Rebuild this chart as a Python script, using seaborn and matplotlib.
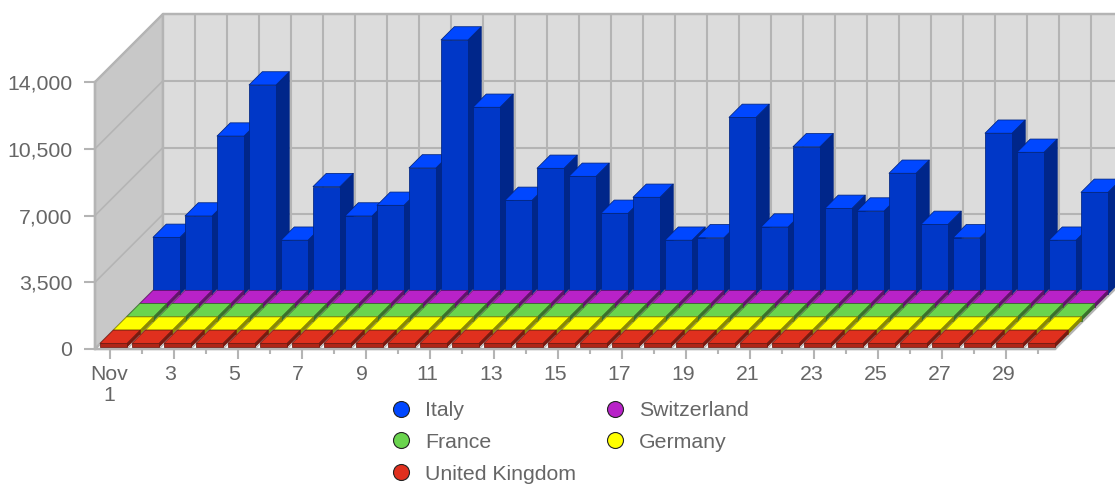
import numpy as np
import pandas as pd
import matplotlib
matplotlib.use('Agg')
import matplotlib.pyplot as plt
from matplotlib.colors import to_rgb
from matplotlib.lines import Line2D
from matplotlib.patches import Polygon
from matplotlib.transforms import ScaledTranslation
import seaborn as sns

# data
day_labels = ['Nov\n1', '3', '5', '7', '9', '11', '13', '15', '17', '19', '21', '23', '25', '27', '29']
days = [str(d) for d in range(1, 31)]
italy = [2970, 4090, 8280, 10960, 2820, 5630, 4090, 4650, 6610, 13320,
         9790, 4910, 6590, 6170, 4230, 5070, 2820, 2950, 9260, 3510,
         7720, 4490, 4350, 6330, 3650, 2950, 8430, 7430, 2820, 5330]
switzerland = [190, 190, 190, 190, 190, 190, 190, 190, 190, 190,
               190, 190, 190, 190, 190, 190, 190, 190, 190, 190,
               190, 190, 190, 190, 190, 190, 190, 190, 190, 190]
france = [190, 190, 190, 190, 190, 190, 190, 190, 190, 190,
          190, 190, 190, 190, 190, 190, 190, 190, 190, 190,
          190, 190, 190, 190, 190, 190, 190, 190, 190, 190]
germany = [190, 190, 190, 190, 190, 190, 190, 190, 190, 190,
           190, 190, 190, 190, 190, 190, 190, 190, 190, 190,
           190, 190, 190, 190, 190, 190, 190, 190, 190, 190]
uk = [190, 190, 190, 190, 190, 190, 190, 190, 190, 190,
      190, 190, 190, 190, 190, 190, 190, 190, 190, 190,
      190, 190, 190, 190, 190, 190, 190, 190, 190, 190]
y_ticks = [0, 3500, 7000, 10500, 14000]

# front row first
series_names = ['United Kingdom', 'Germany', 'France', 'Switzerland', 'Italy']
series_colors = ['#e0301e', '#ffff00', '#6ad44e', '#b822c8', '#0047ff']
legend_order = ['Italy', 'France', 'United Kingdom', 'Switzerland', 'Germany']

df = pd.DataFrame({'day': days, 'Italy': italy, 'Switzerland': switzerland,
                   'France': france, 'Germany': germany, 'United Kingdom': uk})
df = df.melt(id_vars='day', var_name='country', value_name='value')

sns.set_theme(style='white')
plt.rcParams['font.family'] = ['Liberation Sans', 'DejaVu Sans']

GRID = '#b4b4b4'
TEXT = '#666666'
W, H = 1115, 487

fig = plt.figure(figsize=(W / 100, H / 100), dpi=100, facecolor='white')
ax = fig.add_axes([95 / W, (H - 349) / H, 960 / W, 267 / H])
ax.patch.set_visible(False)

# pixel sizes in data units, the 3d look is built from them
px = 1 / 32
py = 14000 / 267
depth = 68
row = 13.25
x0, x1 = -0.5, 29.5
y1 = 14000


def shade(color, k):
    return tuple(c * k for c in to_rgb(color))


def poly(points, face, edge, lw, z):
    ax.add_patch(Polygon(points, closed=True, facecolor=face, edgecolor=edge,
                         linewidth=lw, zorder=z, clip_on=False, joinstyle='round'))


def line(xs, ys, lw, z):
    ax.plot(xs, ys, color=GRID, lw=lw, zorder=z, clip_on=False, solid_capstyle='butt')


def shift_px(artist, x_px, y_px=0):
    artist.set_transform(artist.get_transform() + ScaledTranslation(x_px / 100, y_px / 100, fig.dpi_scale_trans))


dx, dy = depth * px, depth * py

# walls and floor
poly([(x0, 0), (x0 + dx, dy), (x0 + dx, y1 + dy), (x0, y1)], '#c8c8c8', GRID, 1.7, 1)
poly([(x0 + dx, dy), (x1 + dx, dy), (x1 + dx, y1 + dy), (x0 + dx, y1 + dy)], '#dcdcdc', GRID, 1.7, 1)
poly([(x0, 0), (x1, 0), (x1 + dx, dy), (x0 + dx, dy)], 'white', GRID, 1.7, 3)

for v in y_ticks[1:]:
    line([x0 + dx, x1 + dx], [v + dy, v + dy], 1.5, 2)
    line([x0, x0 + dx], [v, v + dy], 1.2, 2)
for k in range(1, 30):
    line([x0 + k + dx, x0 + k + dx], [dy, y1 + dy], 1.5, 2)
    line([x0 + k, x0 + k + dx], [0, dy], 0.9, 4)

# bars: seaborn draws the front faces, then they get moved back by row
for r, (name, color) in enumerate(zip(series_names, series_colors)):
    sns.barplot(data=df[df['country'] == name], x='day', y='value', order=days,
                color=color, saturation=1, width=27 / 32, errorbar=None, ax=ax)
    bars = ax.containers[-1]
    front, side = shade(color, 0.78), shade(color, 0.54)
    edge = shade(color, 0.5)
    sx, sy = (2.5 + row * r) * px, (2 + row * r) * py
    ox, oy = row * px, row * py
    for i, bar in enumerate(bars):
        z = 10 + (4 - r) * 100 + i * 3
        xa, w, h = bar.get_x() + sx, bar.get_width(), bar.get_height()
        bar.set_x(xa)
        bar.set_y(sy)
        bar.set_facecolor(front)
        bar.set_edgecolor(edge)
        bar.set_linewidth(0.55)
        bar.set_zorder(z + 2)
        bar.set_clip_on(False)
        xb, top = xa + w, sy + h
        poly([(xb, sy), (xb + ox, sy + oy), (xb + ox, top + oy), (xb, top)], side, edge, 0.55, z)
        poly([(xa, top), (xb, top), (xb + ox, top + oy), (xa + ox, top + oy)], color, edge, 0.55, z + 1)

ax.set_xlim(x0, x1)
ax.set_ylim(0, y1)
ax.set_xlabel('')
ax.set_ylabel('')
ax.set_yticks(y_ticks)
ax.set_yticklabels([f'{v:,}' for v in y_ticks])
ax.set_xticks(np.arange(0, 30, 2))
ax.set_xticklabels(day_labels, linespacing=1.1)
ax.set_xticks(np.arange(1, 30, 2), minor=True)
ax.tick_params(axis='y', left=True, length=8, width=1.5, color=GRID, labelcolor=TEXT, labelsize=15.3, pad=8.5)
ax.tick_params(axis='x', which='major', bottom=True, length=7, width=1.5, color=GRID, labelcolor=TEXT, labelsize=15.3, pad=4.7)
ax.tick_params(axis='x', which='minor', bottom=True, length=3.6, width=1.5, color=GRID)
for t in ax.xaxis.get_major_ticks() + ax.xaxis.get_minor_ticks():
    shift_px(t.tick1line, -1)
for j, lab in enumerate(ax.get_xticklabels()):
    shift_px(lab, -1.5 if j == 0 else (-5 if j < 5 else -3.5))
for s in ['top', 'right']:
    ax.spines[s].set_visible(False)
for s in ['left', 'bottom']:
    ax.spines[s].set_color(GRID)
    ax.spines[s].set_linewidth(1.7)

# legend
color_of = dict(zip(series_names, series_colors))
handles = [Line2D([], [], ls='none', marker='o', ms=11.5, mfc=color_of[n], mec='#222222', mew=0.8, label=n)
           for n in legend_order]
fig.legend(handles=handles, ncol=2, frameon=False, loc='upper left',
           bbox_to_anchor=(385 / W, 1 - 401 / H), labelcolor=TEXT, fontsize=15.3,
           borderpad=0, borderaxespad=0, labelspacing=0.6, handlelength=1.5,
           handletextpad=0.4, columnspacing=1.06)

fig.savefig('out.png', dpi=100)
